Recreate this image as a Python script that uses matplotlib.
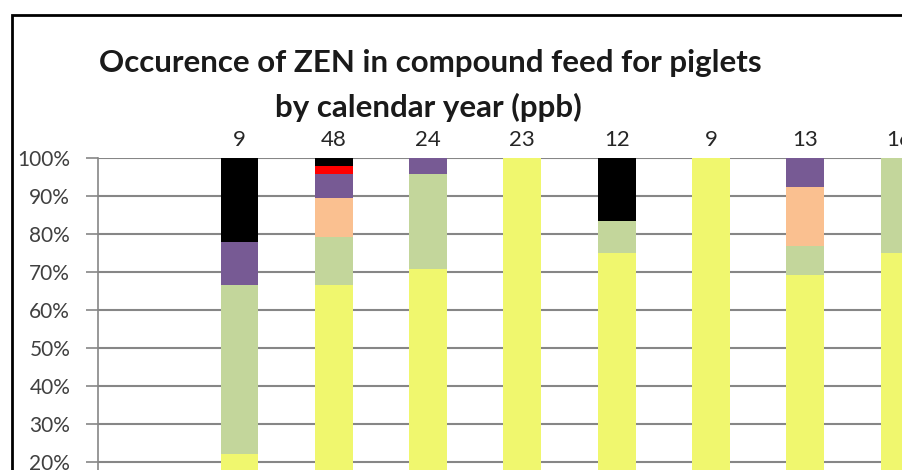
import numpy as np
import matplotlib
matplotlib.use("Agg")
from matplotlib import pyplot as plt
from matplotlib.patches import Rectangle

plt.rcParams['font.family'] = ['Lato', 'DejaVu Sans']

# muestras por clase (ppb), apiladas de abajo hacia arriba; la categoria 0 no tiene muestras
amarillo = [0, 2, 32, 17, 23, 9, 9, 9, 12]
verde    = [0, 4, 6, 6, 0, 1, 0, 1, 4]
naranja  = [0, 0, 5, 0, 0, 0, 0, 2, 0]
morado   = [0, 1, 3, 1, 0, 0, 0, 1, 0]
rojo     = [0, 0, 1, 0, 0, 0, 0, 0, 0]
negro    = [0, 2, 1, 0, 0, 2, 0, 0, 0]

series = [amarillo, verde, naranja, morado, rojo, negro]
colores = ['#F0F76E', '#C3D69B', '#FAC090', '#775A94', '#FF0000', '#000000']
yticks = [0, 10, 20, 30, 40, 50, 60, 70, 80, 90, 100]

W, H = 902, 470
fig = plt.figure(figsize=(W / 100, H / 100), dpi=100)

# el grafico original esta recortado: los ejes siguen por debajo y a la derecha
x0, ytop, y0 = 98, 158, 538
paso = 94.3
ncat = 10
ax = fig.add_axes([x0 / W, (H - y0) / H, ncat * paso / W, (y0 - ytop) / H])

datos = np.array(series, dtype=float)
total = datos.sum(axis=0)
pct = np.where(total > 0, datos / np.where(total > 0, total, 1) * 100, 0)

x = np.arange(len(amarillo))
base = np.zeros(len(x))
for i in range(len(series)):
    ax.bar(x, pct[i], 0.4, bottom=base, color=colores[i], linewidth=0, zorder=3)
    base = base + pct[i]

for i in range(len(x)):
    if total[i] > 0:
        ax.text(x[i], 103.2, str(int(total[i])), ha='center', va='baseline',
                fontsize=16, color='#262626', clip_on=False)

ax.set_xlim(-0.5, ncat - 0.5)
ax.set_ylim(0, 100)
ax.set_yticks(yticks)
ax.set_yticklabels([str(t) + '%' for t in yticks], fontsize=15, color='#404040')
ax.yaxis.grid(True, color='#868686', linewidth=1.5, zorder=0)
ax.set_xticks([])
ax.tick_params(axis='y', direction='out', length=9, width=1.2, color='#868686', pad=11)
for s in ['top', 'right', 'bottom']:
    ax.spines[s].set_visible(False)
ax.spines['left'].set_color('#868686')
ax.spines['left'].set_linewidth(1.2)

# titulo en dos lineas
fig.text(430 / W, 1 - 72 / H, 'Occurence of ZEN in compound feed for piglets',
         ha='center', va='baseline', fontsize=22.5, fontweight='bold', color='#1a1a1a')
fig.text(428 / W, 1 - 117 / H, 'by calendar year (ppb)',
         ha='center', va='baseline', fontsize=22.5, fontweight='bold', color='#1a1a1a')

# borde del area del grafico
fig.patches.append(Rectangle((12 / W, -0.5), 2, 0.5 + (H - 15) / H,
                             transform=fig.transFigure, fill=False,
                             edgecolor='black', linewidth=2))

fig.savefig('out.png', dpi=100)
